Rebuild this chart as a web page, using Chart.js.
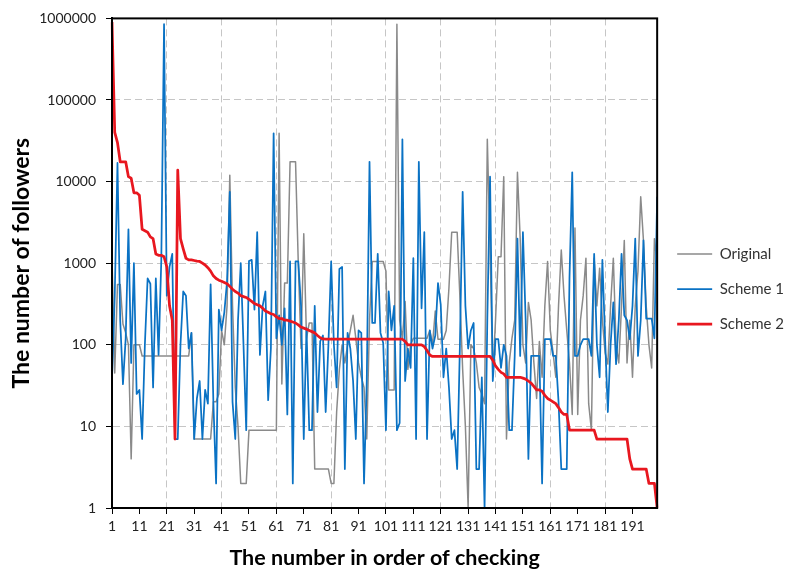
<!DOCTYPE html>
<html>
<head>
<meta charset="utf-8">
<script src="https://cdn.jsdelivr.net/npm/chart.js@4"></script>
<style>
  html, body { margin: 0; padding: 0; background: #fff; }
  #wrap { width: 798px; height: 573px; }
</style>
</head>
<body>
<div id="wrap"><canvas id="chart"></canvas></div>
<script>
// order of checking: 1 .. 200
const positions = Array.from({length: 200}, (_, i) => String(i + 1));
const yTicks = [1, 10, 100, 1000, 10000, 100000, 1000000];

const original = [
  1200, 45, 550, 550, 180, 140, 100, 4, 100, 100,
  100, 73, 73, 73, 73, 73, 73, 73, 73, 73,
  73, 73, 73, 73, 73, 73, 73, 73, 73, 140,
  7, 7, 7, 7, 7, 7, 7, 20, 20, 25,
  150, 100, 300, 12000, 300, 30, 10, 2, 2, 2,
  9, 9, 9, 9, 9, 9, 9, 9, 9, 9,
  9, 39000, 33, 570, 570, 17500, 17500, 17500, 1000, 90,
  2300, 120, 185, 185, 3, 3, 3, 3, 3, 3,
  2, 2, 15, 50, 100, 60, 100, 150, 230, 120,
  60, 40, 30, 7, 200, 1050, 1050, 1050, 1050, 1050,
  800, 28, 28, 28, 850000, 200, 120, 340, 50, 100,
  120, 120, 120, 120, 120, 120, 150, 100, 260, 117,
  117, 117, 150, 500, 2400, 2400, 2400, 380, 50, 10,
  1, 100, 90, 60, 30, 25, 19, 33000, 1500, 43,
  200, 1200, 1200, 11500, 7, 60, 120, 200, 13000, 2000,
  100, 60, 330, 200, 60, 22, 110, 40, 300, 1050,
  150, 80, 40, 300, 1450, 400, 150, 60, 14, 2700,
  14, 200, 400, 1150, 19, 9, 1150, 300, 870, 200,
  80, 58, 300, 1150, 100, 60, 300, 1900, 60, 200,
  40, 300, 800, 6500, 1900, 300, 100, 52, 2000, 1000
];

const scheme1 = [
  38, 400, 17000, 200, 33, 120, 2600, 60, 1000, 25,
  28, 7, 100, 650, 560, 30, 650, 75, 1100, 850000,
  400, 900, 1300, 7, 7, 100, 450, 400, 90, 140,
  7, 22, 36, 7, 28, 19, 550, 20, 2, 270,
  150, 250, 600, 7500, 20, 7, 200, 1000, 100, 9,
  1060, 1100, 270, 2400, 75, 300, 450, 21, 90, 39000,
  120, 230, 100, 280, 14, 1050, 2, 1050, 1050, 300,
  7, 160, 9, 9, 300, 15, 110, 130, 15, 100,
  1050, 100, 30, 850, 900, 3, 140, 90, 36, 7,
  150, 140, 2, 36, 17500, 185, 185, 1300, 140, 105,
  9, 450, 150, 300, 9, 11, 33000, 36, 90, 52,
  1150, 7, 17500, 280, 2400, 7, 150, 90, 130, 570,
  310, 40, 90, 30, 7, 9, 3, 100, 7500, 300,
  90, 150, 185, 3, 3, 40, 1, 200, 11500, 36,
  117, 117, 52, 100, 73, 9, 9, 73, 2000, 73,
  2400, 200, 4, 73, 73, 73, 73, 2, 117, 117,
  117, 73, 73, 20, 3, 3, 3, 660, 13000, 73,
  73, 100, 117, 117, 117, 73, 1300, 100, 40, 1100,
  117, 15, 100, 330, 58, 200, 1300, 230, 200, 117,
  300, 2000, 73, 200, 1900, 210, 210, 210, 120, 6500
];

const scheme2 = [
  900000, 40000, 30000, 17500, 17500, 17500, 11500, 11000, 7300, 7300,
  6800, 2600, 2500, 2400, 2100, 2000, 1300, 1250, 1250, 1200,
  900, 300, 200, 7, 13800, 2000, 1500, 1150, 1100, 1100,
  1080, 1060, 1050, 1000, 950, 880, 800, 700, 650, 620,
  600, 580, 560, 520, 480, 450, 430, 400, 390, 380,
  360, 340, 320, 310, 300, 280, 260, 250, 240, 235,
  220, 210, 210, 200, 200, 195, 190, 185, 175, 165,
  160, 155, 150, 145, 140, 130, 122, 118, 117, 117,
  117, 117, 117, 117, 117, 117, 117, 117, 117, 117,
  117, 117, 117, 117, 117, 117, 117, 117, 117, 117,
  117, 117, 117, 117, 117, 117, 117, 110, 100, 100,
  100, 100, 100, 100, 95, 85, 75, 72, 72, 72,
  72, 72, 72, 72, 72, 72, 72, 72, 72, 72,
  72, 72, 72, 72, 72, 72, 72, 72, 72, 65,
  55, 50, 46, 44, 40, 40, 40, 40, 40, 40,
  39, 38, 36, 34, 31, 28, 28, 27, 24, 22,
  21, 20, 19, 17, 15, 14, 14, 9, 9, 9,
  9, 9, 9, 9, 9, 9, 9, 7, 7, 7,
  7, 7, 7, 7, 7, 7, 7, 7, 7, 4,
  3, 3, 3, 3, 3, 3, 2, 2, 2, 1
];

const FONT = "Lato, 'Open Sans', sans-serif";
const gridGray = '#c6c6c6';

// black box round the plot area
const plotFrame = {
  id: 'plotFrame',
  afterDatasetsDraw(chart) {
    const {ctx, chartArea: a} = chart;
    ctx.save();
    ctx.strokeStyle = '#000';
    ctx.lineWidth = 2;
    ctx.strokeRect(a.left, a.top, a.right - a.left, a.bottom - a.top);
    ctx.restore();
  }
};

// lift the legend block a little, like the original
const legendNudge = {
  id: 'legendNudge',
  afterLayout(chart) {
    chart.legend.top -= 6;
    chart.legend.bottom -= 6;
  }
};

new Chart(document.getElementById('chart'), {
  type: 'line',
  data: {
    labels: positions,
    datasets: [{
      label: 'Original',
      data: original,
      borderColor: '#8a8a8a',
      backgroundColor: '#8a8a8a',
      borderWidth: 1.5,
      order: 3
    }, {
      label: 'Scheme 1',
      data: scheme1,
      borderColor: '#0a72c4',
      backgroundColor: '#0a72c4',
      borderWidth: 1.75,
      order: 2
    }, {
      label: 'Scheme 2',
      data: scheme2,
      borderColor: '#e8171f',
      backgroundColor: '#e8171f',
      borderWidth: 2.75,
      order: 1
    }]
  },
  options: {
    responsive: true,
    maintainAspectRatio: false,
    animation: false,
    layout: { padding: { top: 17, right: 4, bottom: 0, left: 0 } },
    elements: {
      point: { radius: 0, hoverRadius: 0 },
      line: { tension: 0, fill: false, borderJoinStyle: 'round' }
    },
    scales: {
      x: {
        type: 'category',
        offset: false,
        grid: {
          color: ctx => (ctx.index > 0 && ctx.index % 20 === 0) ? gridGray : 'transparent',
          tickColor: ctx => (ctx.index % 10 === 0) ? '#000' : 'transparent',
          tickLength: 6
        },
        border: { color: '#000', width: 2, dash: [7, 4] },
        ticks: {
          autoSkip: false,
          maxRotation: 0,
          minRotation: 0,
          padding: 4,
          color: '#222',
          font: { family: FONT, size: 14 },
          callback: (v, i) => (i % 10 === 0 ? positions[i] : '')
        },
        title: {
          display: true,
          text: 'The number in order of checking',
          color: '#000',
          font: { family: FONT, size: 21.5, weight: 'bold' },
          padding: { top: 0, bottom: 2 }
        },
        afterFit: s => { s.height = 65; }
      },
      y: {
        type: 'logarithmic',
        min: 1,
        max: 1000000,
        grid: { color: gridGray, tickColor: '#000', tickLength: 6 },
        border: { color: '#000', width: 2, dash: [7, 4] },
        afterBuildTicks: s => { s.ticks = yTicks.map(v => ({ value: v })); },
        ticks: {
          padding: 10,
          color: '#222',
          font: { family: FONT, size: 14 },
          callback: v => String(v)
        },
        title: {
          display: true,
          text: 'The number of followers',
          color: '#000',
          font: { family: FONT, size: 23, weight: 'bold' },
          padding: { top: 8, bottom: 4 }
        },
        afterFit: s => { s.width = 112; }
      }
    },
    plugins: {
      tooltip: { enabled: false },
      legend: {
        display: true,
        position: 'right',
        align: 'center',
        labels: {
          usePointStyle: true,
          pointStyle: 'line',
          pointStyleWidth: 35,
          padding: 20,
          color: '#333',
          font: { family: FONT, size: 15 },
          sort: (a, b) => a.datasetIndex - b.datasetIndex
        }
      }
    }
  },
  plugins: [plotFrame, legendNudge]
});
</script>
</body>
</html>
